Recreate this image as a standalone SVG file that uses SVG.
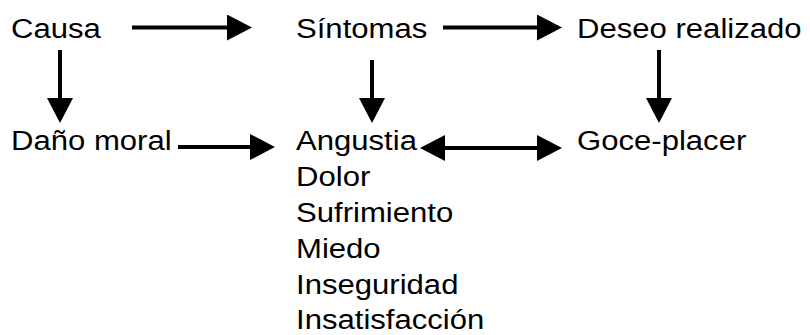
<svg xmlns="http://www.w3.org/2000/svg" width="810" height="335" viewBox="0 0 810 335">
<style>
text{font-family:"Liberation Sans",Arial,sans-serif;font-size:28px;fill:#000}
.c{stroke:#000;stroke-width:4;fill:none}
</style>
<defs>
<marker id="ah" markerUnits="userSpaceOnUse" markerWidth="25" markerHeight="26" refX="5" refY="13" orient="auto-start-reverse" viewBox="0 0 25 26">
<path d="M0,0 L25,13 L0,26 z" fill="#000"/>
</marker>
</defs>
<rect width="810" height="335" fill="#fff"/>
<g id="causa"><text transform="translate(11,38) scale(1.11,1)">Causa</text></g>
<g id="sintomas"><text transform="translate(296,38) scale(1.11,1)">Síntomas</text></g>
<g id="deseo"><text transform="translate(577,38) scale(1.11,1)">Deseo realizado</text></g>
<g id="dano"><text transform="translate(11,150) scale(1.11,1)">Daño moral</text></g>
<g id="angustia">
<text transform="translate(296,150) scale(1.11,1)">Angustia</text>
<text transform="translate(296,186) scale(1.11,1)">Dolor</text>
<text transform="translate(296,222) scale(1.11,1)">Sufrimiento</text>
<text transform="translate(296,258) scale(1.11,1)">Miedo</text>
<text transform="translate(296,294) scale(1.11,1)">Inseguridad</text>
<text transform="translate(296,329) scale(1.11,1)">Insatisfacción</text>
</g>
<g id="goce"><text transform="translate(577,150) scale(1.11,1)">Goce-placer</text></g>
<g id="connectors">
<line class="c" x1="132" y1="27.5" x2="232" y2="27.5" marker-end="url(#ah)"/>
<line class="c" x1="443" y1="27.5" x2="542" y2="27.5" marker-end="url(#ah)"/>
<line class="c" x1="178" y1="147" x2="255" y2="147" marker-end="url(#ah)"/>
<line class="c" x1="440" y1="148" x2="542" y2="148" marker-start="url(#ah)" marker-end="url(#ah)"/>
<line class="c" x1="60" y1="50" x2="60" y2="103" marker-end="url(#ah)"/>
<line class="c" x1="372" y1="60" x2="372" y2="103" marker-end="url(#ah)"/>
<line class="c" x1="659" y1="50" x2="659" y2="103" marker-end="url(#ah)"/>
</g>
</svg>
